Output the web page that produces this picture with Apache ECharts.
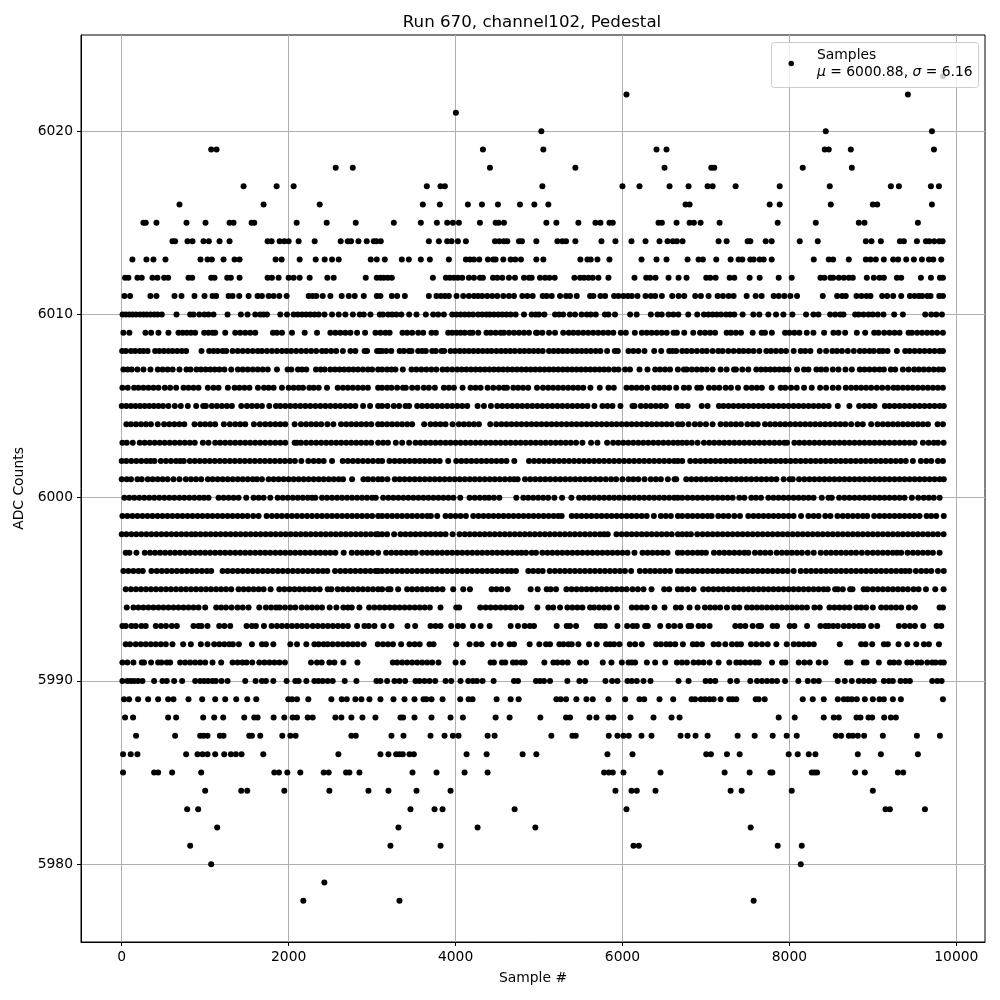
<!DOCTYPE html>
<html><head><meta charset="utf-8">
<style>html,body{margin:0;padding:0;background:#fff}#c{width:1000px;height:1000px}</style>
<script src="https://cdn.jsdelivr.net/npm/echarts@6/dist/echarts.min.js"></script>
</head><body><div id="c"></div>
<script>
const xTicks = [0,2000,4000,6000,8000,10000];
const yTicks = [5980,5990,6000,6010,6020];
const titleText = 'Run 670, channel102, Pedestal';
const xName = 'Sample #';
const yName = 'ADC Counts';
const seriesName = 'Samples';

const s6023=[9840];
const s6022=[6048,9420];
const s6021=[4004];
const s6020=[5028,8436,9708];
const s6019=[1072,1136,4328,5052,6408,6528,8424,8472,8736,9732];
const s6018=[2564,2768,4412,5436,6504,7064,7100,8160,8748];
const s6017=[1460,1856,2060,3656,3820,3872,5040,6000,6204,6564,6792,7020,7080,7356,7884,8484,9216,9312,9696,9792];
const s6016=[692,1700,2372,3608,3812,4148,4316,4508,4772,4944,5112,6756,6804,7764,7884,8496,9000,9052,9708];
const s6015=[260,288,416,776,1004,1292,1340,1556,1588,2096,2456,2804,3260,3584,3776,3900,3968,4040,4292,4480,4516,4580,5088,5208,5472,5676,5736,5844,5884,6432,6472,6648,6804,6856,6936,7164,7860,8316,8832,8900,9540];
const s6014=[608,640,788,848,980,1044,1172,1292,1748,1796,1892,1948,2000,2120,2312,2624,2708,2748,2836,2936,3020,3052,3104,3680,3800,3900,3952,4028,4124,4472,4524,4580,4620,4760,4796,4968,5220,5280,5324,5436,5748,5916,6108,6276,6444,6540,6604,6652,6720,7152,7248,7500,7532,7716,7788,8124,8340,8916,8984,9096,9324,9372,9528,9636,9676,9736,9796,9836];
const s6013=[128,296,380,524,944,1028,1080,1220,1352,1412,1844,1916,2132,2324,2432,2520,2600,2984,3056,3152,3356,3440,3584,3692,3920,4124,4172,4220,4284,4388,4452,4480,4572,4660,4716,4784,4968,5052,5496,5580,5620,5700,5844,6228,6408,6528,6780,6912,6964,7124,7296,7392,7436,7532,7572,7644,7692,7788,8292,8472,8524,8712,8916,8972,9036,9132,9244,9304,9400,9492,9588,9672,9724,9820];
const s6012=[40,80,188,240,368,428,508,556,800,844,1072,1112,1264,1308,1412,1748,1800,1880,2000,2060,2132,2252,2464,2540,2924,3056,3100,3140,3188,3236,3728,3884,3932,3980,4028,4080,4160,4220,4292,4328,4448,4500,4560,4640,4712,4820,4880,4912,5012,5072,5124,5188,5424,5492,5540,5592,5644,5712,5832,6144,6284,6332,6396,6552,6672,6768,7004,7052,7116,7284,7340,7524,7644,7872,8028,8372,8420,8492,8524,8592,8652,8712,8760,8928,9012,9080,9132,9288,9340,9576,9696,9804,9840];
const s6011=[32,100,344,416,632,716,872,992,1088,1132,1280,1328,1408,1520,1628,1680,1760,1820,1888,1976,2240,2288,2332,2408,2500,2636,2720,2792,2900,3056,3100,3236,3300,3392,3680,3772,3824,3872,3920,4012,4092,4160,4220,4268,4320,4380,4440,4500,4572,4640,4700,4800,4860,4924,5044,5092,5152,5252,5324,5372,5452,5612,5652,5736,5792,5900,5952,6012,6064,6112,6180,6276,6340,6392,6472,6596,6672,6740,6872,6940,7032,7140,7204,7272,7332,7488,7596,7668,7812,7872,7940,8012,8092,8400,8572,8632,8676,8804,8864,8924,8972,9112,9172,9244,9340,9444,9500,9552,9592,9652,9692,9796,9840];
const s6010=[10,50,90,130,170,220,260,300,345,390,430,480,656,820,860,930,990,1040,1100,1268,1428,1508,1600,1660,1700,1740,1900,1980,2060,2110,2160,2210,2260,2310,2360,2430,2520,2600,2680,2770,2852,2900,2980,3092,3130,3192,3240,3290,3350,3444,3532,3644,3732,3792,3860,3960,4010,4060,4110,4160,4210,4270,4320,4370,4410,4460,4512,4560,4610,4660,4720,4820,4912,4960,5000,5064,5192,5240,5290,5370,5432,5510,5572,5620,5680,5790,5832,5910,6092,6170,6340,6420,6470,6552,6610,6670,6788,6896,6976,7030,7080,7130,7180,7240,7290,7340,7440,7568,7640,7748,7840,7928,8036,8200,8288,8348,8488,8550,8610,8648,8788,8830,8888,8948,9000,9060,9128,9256,9360,9628,9700,9760,9828];
const s6009=[20,92,284,352,440,560,680,730,780,830,880,988,1040,1090,1120,1240,1360,1420,1480,1540,1600,1812,1860,1920,2040,2192,2340,2500,2560,2620,2680,2740,2820,2916,3040,3100,3160,3210,3364,3420,3480,3552,3612,3712,3764,3912,3960,4010,4060,4110,4170,4204,4272,4370,4420,4480,4540,4580,4640,4700,4760,4820,4880,4964,4980,5040,5120,5192,5290,5356,5412,5470,5530,5590,5650,5710,5770,5830,5890,5980,6040,6148,6232,6290,6350,6410,6470,6530,6612,6652,6740,6848,6930,6990,7050,7110,7248,7300,7360,7420,7560,7668,7708,7790,7948,8000,8060,8120,8208,8288,8416,8528,8588,8668,8808,8908,9016,9068,9136,9200,9260,9320,9428,9468,9530,9590,9650,9710,9770,9840];
const s6008=[5,50,110,160,215,260,310,400,450,505,560,610,665,720,772,956,1048,1100,1150,1210,1252,1328,1390,1450,1510,1570,1630,1680,1740,1800,1860,1920,1975,2030,2090,2150,2210,2270,2330,2400,2450,2510,2570,2650,2740,2800,2910,2940,3060,3090,3120,3170,3230,3330,3380,3440,3472,3552,3600,3644,3720,3764,3832,3864,3940,3995,4050,4105,4160,4215,4270,4325,4380,4430,4490,4545,4600,4655,4710,4770,4825,4880,4935,4990,5044,5120,5175,5230,5285,5340,5400,5455,5510,5565,5620,5680,5735,5816,5908,5944,6072,6130,6190,6264,6380,6464,6560,6600,6644,6716,6770,6830,6892,6956,7010,7080,7148,7200,7268,7332,7396,7450,7510,7570,7640,7724,7780,7840,7900,7960,8052,8136,8190,8252,8364,8440,8516,8570,8630,8700,8772,8844,8900,8960,9012,9076,9120,9176,9288,9388,9440,9500,9560,9620,9680,9740,9800,9840];
const s6007=[20,70,120,188,260,344,432,490,550,610,692,776,824,896,950,1005,1060,1115,1170,1230,1312,1392,1450,1510,1570,1630,1690,1750,1860,1988,2032,2112,2160,2212,2328,2384,2432,2500,2555,2610,2665,2720,2775,2830,2890,2950,3000,3072,3120,3180,3232,3280,3368,3472,3530,3590,3650,3710,3770,3844,3900,3960,4020,4075,4130,4185,4240,4295,4350,4405,4460,4515,4570,4625,4680,4735,4790,4845,4900,4955,5010,5065,5120,5175,5230,5285,5340,5395,5450,5505,5560,5615,5670,5725,5780,5835,5900,5952,6032,6090,6204,6300,6392,6450,6510,6570,6664,6736,6770,6830,6890,6950,7010,7080,7176,7248,7336,7360,7436,7508,7604,7660,7715,7770,7825,7880,7935,7990,8092,8176,8228,8324,8380,8440,8520,8588,8672,8748,8844,8900,8960,9020,9080,9132,9216,9268,9360,9428,9496,9552,9610,9670,9730,9790,9840];
const s6006=[8,72,148,200,260,320,380,440,516,580,652,740,800,860,920,1032,1100,1160,1272,1352,1410,1470,1530,1632,1704,1760,1820,1920,2000,2060,2120,2172,2248,2300,2360,2460,2588,2650,2710,2770,2830,2890,2950,3072,3120,3180,3232,3300,3370,3404,3480,3544,3620,3680,3752,3860,3920,3980,4084,4180,4240,4300,4384,4452,4520,4580,4616,4692,4750,4810,4870,4976,5048,5110,5170,5230,5290,5350,5410,5470,5530,5616,5728,5832,5896,6048,6110,6170,6230,6296,6380,6440,6500,6560,6644,6736,6796,6896,6940,7036,7100,7160,7236,7300,7384,7484,7550,7610,7670,7788,7896,7950,8020,8088,8176,8268,8368,8440,8520,8588,8676,8740,8800,8860,8920,8980,9048,9112,9180,9248,9300,9360,9420,9480,9540,9600,9660,9720,9780,9840];
const s6005=[0,55,110,165,220,275,330,385,440,495,560,636,708,792,892,976,1008,1080,1140,1200,1260,1320,1432,1500,1560,1620,1680,1768,1848,1900,1960,2020,2080,2140,2200,2260,2320,2380,2440,2500,2560,2620,2680,2740,2800,2892,2976,3072,3120,3184,3260,3324,3400,3444,3540,3600,3660,3720,3780,3840,3900,3960,4020,4080,4140,4264,4340,4424,4500,4560,4620,4680,4740,4800,4860,4920,4980,5040,5100,5160,5220,5280,5340,5400,5460,5520,5580,5664,5760,5820,5880,5976,6120,6144,6220,6280,6340,6400,6460,6520,6664,6716,6780,6950,7020,7156,7210,7270,7330,7390,7450,7510,7570,7630,7690,7750,7810,7870,7930,7990,8050,8110,8170,8230,8290,8350,8410,8470,8580,8720,8836,8900,8960,9020,9144,9200,9260,9320,9380,9440,9500,9560,9620,9680,9740,9800,9850];
const s6004=[56,110,170,230,290,350,432,508,570,630,690,750,872,940,1000,1060,1120,1224,1296,1360,1420,1480,1584,1656,1720,1780,1840,1900,1960,2072,2148,2210,2270,2330,2390,2464,2536,2628,2690,2750,2810,2870,2930,2990,3072,3120,3180,3240,3300,3360,3420,3480,3624,3700,3760,3820,3880,3964,4040,4100,4160,4220,4280,4416,4488,4550,4610,4670,4730,4790,4850,4910,4970,5030,5090,5150,5210,5270,5330,5390,5450,5510,5570,5630,5690,5750,5810,5870,5930,5990,6050,6110,6170,6230,6290,6350,6410,6470,6530,6590,6664,6716,6792,6868,6930,7000,7080,7176,7240,7300,7360,7420,7496,7560,7620,7708,7770,7830,7890,7950,8010,8070,8130,8190,8250,8310,8370,8430,8490,8550,8610,8670,8740,8816,8880,8980,9056,9120,9180,9240,9300,9360,9420,9480,9540,9600,9660,9776,9840];
const s6003=[8,60,132,216,275,335,395,455,515,575,635,695,755,815,875,972,1040,1120,1180,1240,1300,1360,1420,1480,1540,1600,1660,1720,1780,1840,1900,1960,2072,2100,2148,2210,2270,2330,2390,2450,2510,2570,2630,2690,2750,2810,2870,2930,2990,3072,3132,3190,3284,3360,3444,3520,3580,3640,3700,3760,3820,3880,3940,4000,4060,4120,4180,4240,4300,4360,4420,4480,4540,4600,4660,4720,4780,4840,4900,4960,5020,5080,5140,5200,5260,5320,5380,5444,5520,5624,5700,5816,5888,5950,6010,6070,6130,6190,6250,6310,6370,6430,6490,6550,6610,6664,6716,6770,6830,6900,6976,7040,7100,7160,7220,7280,7340,7400,7460,7520,7580,7640,7700,7760,7820,7880,7940,7972,8060,8120,8180,8240,8300,8360,8420,8480,8540,8600,8660,8720,8780,8840,8900,8960,9020,9080,9140,9200,9260,9320,9380,9440,9500,9600,9668,9730,9780,9848];
const s6002=[0,55,115,175,235,295,345,392,468,530,590,650,700,744,816,875,935,995,1055,1115,1175,1235,1295,1355,1415,1475,1535,1595,1655,1715,1775,1835,1895,1955,2015,2075,2152,2236,2300,2360,2420,2520,2648,2710,2770,2830,2890,2950,3010,3072,3120,3208,3270,3330,3390,3450,3510,3570,3630,3690,3750,3810,3912,4008,4070,4130,4190,4250,4310,4370,4430,4490,4550,4610,4704,4880,4940,5000,5060,5120,5180,5240,5300,5360,5420,5480,5540,5600,5660,5720,5780,5840,5900,5960,6020,6080,6140,6200,6260,6320,6380,6440,6500,6560,6620,6664,6716,6812,6875,6935,6995,7055,7115,7175,7235,7295,7355,7415,7475,7535,7595,7655,7715,7775,7835,7895,7955,8015,8075,8135,8195,8255,8315,8375,8435,8495,8555,8615,8675,8735,8795,8855,8915,8975,9035,9095,9155,9215,9275,9335,9395,9480,9576,9640,9700,9780,9840];
const s6001=[0,60,112,188,240,312,370,430,490,550,620,692,768,830,890,952,1032,1090,1150,1210,1270,1330,1390,1450,1510,1570,1620,1680,1760,1820,1880,1940,2000,2060,2120,2180,2240,2300,2360,2420,2480,2540,2600,2652,2760,2896,2950,3010,3072,3120,3184,3272,3330,3390,3450,3510,3570,3630,3690,3750,3810,3870,3930,3990,4050,4110,4170,4230,4290,4350,4410,4470,4530,4590,4650,4700,4744,4832,4895,4955,5015,5075,5135,5195,5255,5315,5375,5435,5495,5555,5615,5675,5735,5800,5864,5924,6000,6072,6130,6190,6264,6340,6400,6460,6544,6624,6644,6764,6825,6885,6945,7005,7065,7125,7185,7245,7305,7365,7425,7485,7545,7605,7665,7725,7785,7845,7932,8004,8040,8116,8180,8240,8300,8360,8420,8480,8540,8600,8660,8720,8780,8840,8900,8960,9020,9080,9140,9200,9260,9320,9380,9440,9500,9560,9620,9680,9740,9800,9850];
const s6000=[32,90,150,210,270,330,390,450,510,570,630,690,750,810,870,930,985,1040,1160,1220,1280,1340,1400,1492,1580,1640,1700,1780,1868,1930,1990,2050,2110,2170,2230,2280,2320,2400,2460,2520,2580,2640,2700,2760,2820,2880,2940,3000,3044,3132,3195,3255,3315,3375,3435,3495,3555,3615,3675,3735,3795,3855,3915,3975,4056,4168,4230,4290,4350,4400,4460,4524,4728,4812,4870,4930,4990,5050,5110,5184,5276,5388,5480,5540,5600,5660,5720,5780,5840,5900,5960,6020,6080,6140,6200,6260,6320,6380,6440,6500,6560,6620,6664,6716,6780,6840,6900,6960,7020,7080,7140,7200,7260,7320,7400,7460,7544,7600,7660,7748,7810,7870,7930,7990,8050,8110,8170,8230,8290,8388,8468,8508,8596,8660,8720,8780,8840,8900,8960,9020,9080,9140,9200,9260,9320,9380,9468,9544,9610,9670,9730,9800];
const s5999=[8,68,128,188,248,308,368,428,488,548,608,668,728,788,848,908,968,1028,1088,1148,1208,1268,1328,1388,1448,1508,1575,1640,1736,1800,1860,1920,1980,2040,2100,2160,2220,2280,2340,2400,2460,2520,2580,2640,2700,2760,2820,2880,2940,3000,3072,3120,3180,3240,3300,3360,3420,3480,3540,3600,3660,3704,3780,3880,3940,4000,4060,4124,4212,4275,4335,4395,4455,4515,4575,4635,4695,4755,4815,4875,4935,4995,5055,5115,5175,5230,5272,5392,5450,5510,5570,5630,5690,5750,5810,5870,5930,5990,6050,6110,6170,6230,6290,6376,6460,6520,6580,6664,6716,6780,6840,6900,6960,7020,7068,7148,7210,7270,7340,7408,7508,7570,7630,7690,7750,7810,7870,7930,7990,8050,8140,8228,8290,8350,8430,8492,8576,8640,8700,8760,8820,8880,8932,9016,9080,9140,9200,9260,9320,9380,9440,9500,9560,9644,9700,9760,9850];
const s5998=[0,55,115,175,235,295,355,415,475,535,595,655,715,775,835,885,945,1005,1065,1125,1185,1245,1305,1365,1425,1485,1545,1605,1665,1725,1785,1845,1905,1965,2025,2085,2145,2205,2265,2325,2385,2445,2505,2565,2625,2685,2745,2805,2865,2925,2985,3045,3072,3120,3180,3264,3340,3400,3460,3520,3580,3640,3700,3760,3820,3880,3964,4048,4110,4170,4230,4290,4350,4410,4470,4530,4590,4650,4710,4770,4830,4890,4950,5010,5070,5130,5190,5250,5310,5370,5430,5490,5550,5610,5670,5730,5780,5824,5928,5990,6050,6110,6170,6230,6290,6350,6410,6470,6530,6590,6664,6716,6770,6820,6896,6960,7020,7080,7140,7200,7260,7320,7380,7440,7500,7560,7620,7680,7740,7800,7860,7920,7980,8040,8100,8160,8220,8280,8340,8400,8460,8520,8580,8640,8700,8760,8820,8880,8940,9000,9060,9120,9180,9240,9300,9360,9420,9480,9540,9600,9660,9720,9780,9848];
const s5997=[48,92,176,276,340,400,460,520,580,640,700,760,820,880,940,1000,1060,1120,1180,1240,1300,1360,1420,1480,1540,1600,1660,1720,1780,1840,1900,1960,2020,2080,2140,2200,2260,2320,2380,2440,2500,2560,2660,2756,2820,2880,2940,3000,3072,3168,3230,3290,3350,3410,3470,3524,3600,3660,3720,3780,3840,3900,3960,4020,4080,4140,4200,4260,4320,4380,4440,4500,4560,4620,4680,4740,4790,4844,4912,4964,5040,5100,5160,5220,5280,5340,5400,5460,5520,5580,5640,5700,5760,5820,5880,5940,6000,6060,6144,6240,6300,6360,6420,6480,6540,6664,6716,6780,6840,6900,6950,7000,7096,7160,7220,7280,7340,7400,7460,7508,7588,7650,7710,7772,7848,7910,7970,8030,8090,8150,8220,8292,8376,8440,8500,8560,8620,8680,8740,8800,8868,8936,9000,9060,9120,9180,9240,9290,9340,9416,9480,9540,9600,9660,9720,9800];
const s5996=[20,80,140,200,252,356,420,480,540,600,660,720,780,840,900,960,1020,1072,1208,1270,1330,1390,1450,1510,1570,1630,1690,1750,1810,1870,1930,1990,2050,2110,2170,2230,2290,2350,2410,2464,2556,2620,2680,2740,2800,2860,2920,2980,3040,3072,3120,3180,3240,3300,3360,3420,3480,3540,3600,3660,3720,3780,3840,3900,3960,4020,4080,4140,4200,4260,4320,4380,4440,4500,4560,4620,4670,4724,4872,4930,4990,5044,5128,5190,5250,5310,5370,5430,5490,5550,5610,5670,5730,5790,5850,5910,5970,6030,6104,6208,6272,6332,6390,6450,6510,6570,6664,6716,6780,6840,6900,6960,7020,7080,7140,7200,7260,7320,7380,7440,7500,7560,7620,7680,7740,7800,7860,7920,7980,8052,8136,8200,8260,8320,8380,8440,8500,8560,8620,8680,8740,8800,8860,8920,8980,9040,9100,9160,9220,9280,9340,9390,9440,9516,9580,9640,9700,9780,9850];
const s5995=[48,110,170,230,290,350,410,470,530,590,650,710,770,830,890,950,1010,1070,1130,1190,1250,1312,1400,1460,1520,1580,1640,1700,1784,1888,1950,2010,2070,2130,2190,2250,2310,2372,2468,2512,2588,2650,2710,2770,2830,2890,2950,3010,3072,3120,3192,3220,3312,3420,3480,3540,3600,3660,3720,3780,3844,3972,4092,4172,4432,4490,4550,4624,4900,4984,5092,5140,5204,5328,5390,5450,5510,5570,5630,5690,5750,5810,5870,5930,5990,6050,6120,6184,6252,6348,6500,6560,6664,6716,6780,6852,6968,7030,7090,7150,7210,7270,7330,7390,7450,7510,7570,7630,7690,7750,7810,7870,7930,7990,8050,8110,8170,8230,8290,8350,8410,8460,8548,8580,8640,8728,8756,8890,8936,9000,9060,9120,9180,9240,9300,9360,9420,9488,9548,9636,9748,9848];
const s5994=[60,140,200,260,320,380,440,500,560,620,680,740,800,860,920,1000,1132,1190,1250,1316,1388,1450,1520,1648,1728,1790,1850,1892,1956,2020,2080,2156,2220,2280,2340,2400,2492,2572,2656,2710,2756,2848,2964,3028,3090,3150,3210,3270,3330,3390,3450,3510,3570,3630,3692,3820,4008,4044,4296,4360,4420,4480,4540,4600,4660,4720,4788,4980,5112,5170,5252,5340,5400,5460,5520,5612,5660,5720,5780,5840,5932,6112,6170,6230,6290,6384,6504,6640,6700,6804,6900,6988,7050,7110,7170,7252,7340,7400,7492,7550,7610,7670,7730,7790,7850,7910,7970,8030,8090,8150,8210,8300,8364,8480,8540,8600,8660,8720,8804,8860,8920,9000,9100,9160,9220,9280,9340,9432,9504,9800,9840];
const s5993=[8,48,116,168,236,288,408,470,530,600,660,860,920,956,1028,1168,1230,1300,1496,1560,1608,1704,1796,1860,1920,1980,2040,2100,2160,2220,2288,2348,2410,2470,2530,2590,2650,2710,2820,2908,2960,3028,3136,3232,3424,3516,3700,3760,3820,3948,4028,4088,4208,4300,4408,4660,4748,4828,4890,4940,5212,5332,5372,5444,5692,5740,5788,5940,6056,6124,6172,6272,6304,6452,6552,6620,6692,6792,6824,6912,6972,7044,7352,7412,7472,7560,7632,7660,7800,7852,8004,8060,8212,8372,8432,8472,8524,8580,8652,8712,8772,8832,8884,8980,9052,9312,9380,9444,9504,9604,9764,9820];
const s5992=[48,100,168,228,288,348,408,468,528,608,736,828,948,1028,1108,1170,1230,1288,1332,1404,1560,1680,1728,1816,2020,2100,2212,2308,2360,2420,2468,2528,2590,2650,2710,2770,2828,2900,3068,3130,3190,3250,3348,3448,3510,3570,3688,3736,4008,4168,4248,4312,4456,4540,4648,4700,4888,5004,5084,5132,5244,5292,5352,5392,5472,5600,5692,5804,5852,5900,5964,6088,6152,6232,6404,6460,6524,6572,6632,6724,6844,6892,6952,7092,7152,7232,7312,7372,7420,7540,7604,7672,7740,7844,7968,8052,8112,8172,8232,8292,8604,8860,8912,8992,9132,9180,9308,9412,9520,9612,9672,9792];
const s5991=[8,68,140,240,268,352,436,476,540,580,700,760,820,880,940,1000,1088,1192,1328,1388,1448,1496,1564,1648,1710,1770,1830,1890,1956,2268,2340,2396,2488,2548,2656,2824,3248,3300,3360,3420,3480,3540,3600,3660,3720,3796,4000,4088,4420,4460,4556,4596,4688,4728,4788,4828,5064,5172,5220,5280,5344,5492,5564,5764,5868,5992,6072,6112,6152,6292,6392,6512,6652,6712,6772,6852,6912,6972,7044,7152,7280,7364,7412,7472,7532,7592,7632,7792,7912,7952,8112,8180,8244,8352,8432,8692,8732,8892,8924,9072,9204,9252,9312,9412,9460,9532,9580,9652,9712,9752,9812,9850];
const s5990=[8,68,108,148,196,248,388,488,540,628,724,880,940,988,1036,1088,1128,1196,1268,1480,1604,1680,1728,1816,1976,2080,2120,2212,2308,2356,2408,2468,2528,2672,2812,3052,3100,3180,3268,3328,3396,3520,3568,3628,3688,3756,3880,3948,4060,4152,4208,4256,4324,4456,4700,4748,4964,5012,5060,5132,5340,5484,5552,5796,5876,5940,6060,6112,6172,6252,6336,6672,6792,6996,7052,7112,7292,7372,7532,7612,7672,7732,7792,7852,7948,8108,8220,8292,8352,8580,8664,8748,8832,8892,8952,9012,9132,9192,9240,9332,9392,9444,9712,9772,9824];
const s5989=[28,88,196,316,436,556,620,800,964,1120,1240,1372,1504,1612,1996,2040,2100,2236,2512,2636,2696,2800,2872,2968,3100,3256,3388,3508,3616,3650,3712,3844,4056,4156,4204,4492,4660,4756,5208,5260,5324,5448,5568,5644,5832,6032,6204,6260,6444,6608,6828,6870,6940,6990,7044,7092,7176,7280,7320,7364,7596,7632,7704,8160,8280,8412,8580,8652,8700,8748,8808,8904,9000,9080,9132,9240,9336,9840];
const s5988=[40,136,556,652,976,1108,1216,1468,1588,1628,1820,1948,2048,2100,2228,2288,2560,2632,2752,2884,3040,3340,3372,3508,3712,3940,4088,4480,4648,5016,5324,5372,5604,5688,5832,5892,6096,6372,6588,6684,7872,8064,8412,8532,8592,8804,8852,8948,8992,9136,9216,9276];
const s5987=[172,640,940,980,1028,1176,1220,1528,1560,1660,1924,2020,2084,2752,2804,3232,3376,3700,3868,3968,4036,4384,4468,5148,5400,5440,5836,5940,6012,6076,6228,6348,6696,6780,6876,7020,7380,7584,7800,7968,8088,8556,8620,8712,8760,8820,8896,9120,9528,9804];
const s5986=[16,108,188,772,908,968,1028,1120,1228,1308,1368,1436,1696,2596,3100,3196,3288,3328,3368,3448,3500,4132,4372,4804,4968,5820,6120,7004,7060,7252,7404,7992,8100,8232,8312,8820,9096,9540];
const s5985=[16,388,436,604,952,1828,1884,1984,2140,2420,2480,2688,2728,2848,3484,3772,4108,4384,5780,5836,5884,6012,6456,7224,7524,7772,7796,8268,8300,8332,8788,8904,9300,9364];
const s5984=[1000,1432,1504,1948,2488,2956,3196,3532,3940,5916,6108,6172,6396,7296,7428,8028,9000];
const s5983=[784,916,3460,3748,3844,4708,6048,9152,9204,9624];
const s5982=[1144,3316,4264,4956,7536];
const s5981=[820,3220,3820,6132,6196,7860,8148];
const s5980=[1072,8136];
const s5979=[2428];
const s5978=[2176,3328,7572];

const rowLevels=[6023,6022,6021,6020,6019,6018,6017,6016,6015,6014,6013,6012,6011,6010,6009,6008,6007,6006,6005,6004,6003,6002,6001,6000,5999,5998,5997,5996,5995,5994,5993,5992,5991,5990,5989,5988,5987,5986,5985,5984,5983,5982,5981,5980,5979,5978];
const rowSamples=[s6023,s6022,s6021,s6020,s6019,s6018,s6017,s6016,s6015,s6014,s6013,s6012,s6011,s6010,s6009,s6008,s6007,s6006,s6005,s6004,s6003,s6002,s6001,s6000,s5999,s5998,s5997,s5996,s5995,s5994,s5993,s5992,s5991,s5990,s5989,s5988,s5987,s5986,s5985,s5984,s5983,s5982,s5981,s5980,s5979,s5978];

const points=[];
rowLevels.forEach((lv,i)=>rowSamples[i].forEach(x=>points.push([x,lv])));

const FONT='"DejaVu Sans"';
const plain=v=>String(v);
const chart=echarts.init(document.getElementById('c'),null,{renderer:'canvas'});
chart.setOption({
  animation:false,
  backgroundColor:'#fff',
  textStyle:{fontFamily:FONT},
  title:{text:titleText,left:527,top:9,textAlign:'center',textStyle:{fontFamily:FONT,fontSize:16.67,fontWeight:'normal',color:'#000'}},
  legend:{
    left:771.5,top:42.5,orient:'vertical',
    data:[{name:seriesName,icon:'circle'}],
    itemWidth:5.5,itemHeight:5.5,
    padding:[4,6,7,17],
    backgroundColor:'rgba(255,255,255,0.8)',
    borderColor:'#ccc',borderWidth:1,borderRadius:3,
    textStyle:{fontFamily:FONT,fontSize:13.89,color:'#000',padding:[0,0,0,18],lineHeight:17,
      rich:{i:{fontFamily:FONT,fontSize:13.89,fontStyle:'italic',color:'#000',lineHeight:17},n:{fontFamily:FONT,fontSize:13.89,color:'#000',lineHeight:17}}},
    formatter:()=>'{n|Samples}\n{i|μ}{n| = 6000.88, }{i|σ}{n| = 6.16}'
  },
  grid:{left:81,top:35,width:904,height:907,containLabel:false,show:true,borderColor:'#000',borderWidth:1,backgroundColor:'transparent'},
  xAxis:{type:'value',min:-488,max:10344,scale:true,
    name:xName,nameLocation:'middle',nameGap:29,nameTextStyle:{fontFamily:FONT,fontSize:13.89,color:'#000'},
    axisLine:{show:true,onZero:false,lineStyle:{color:'#000',width:1}},
    axisTick:{show:true,length:4,customValues:xTicks,lineStyle:{color:'#000',width:1}},
    axisLabel:{customValues:xTicks,formatter:plain,fontFamily:FONT,fontSize:13.89,color:'#000',margin:8},
    splitLine:{show:true,lineStyle:{color:'#b0b0b0',width:1}}},
  yAxis:{type:'value',min:5975.75,max:6025.25,scale:true,
    name:yName,nameLocation:'middle',nameGap:52,nameRotate:90,nameTextStyle:{fontFamily:FONT,fontSize:13.89,color:'#000'},
    axisLine:{show:true,onZero:false,lineStyle:{color:'#000',width:1}},
    axisTick:{show:true,length:4,customValues:yTicks,lineStyle:{color:'#000',width:1}},
    axisLabel:{customValues:yTicks,formatter:plain,fontFamily:FONT,fontSize:13.89,color:'#000',margin:8},
    splitLine:{show:true,lineStyle:{color:'#b0b0b0',width:1}}},
  series:[{name:seriesName,type:'scatter',data:points,symbol:'circle',symbolSize:6,
    itemStyle:{color:'#000',opacity:1},large:false,progressive:0,silent:true,clip:true,emphasis:{disabled:true}}]
});
</script></body></html>
